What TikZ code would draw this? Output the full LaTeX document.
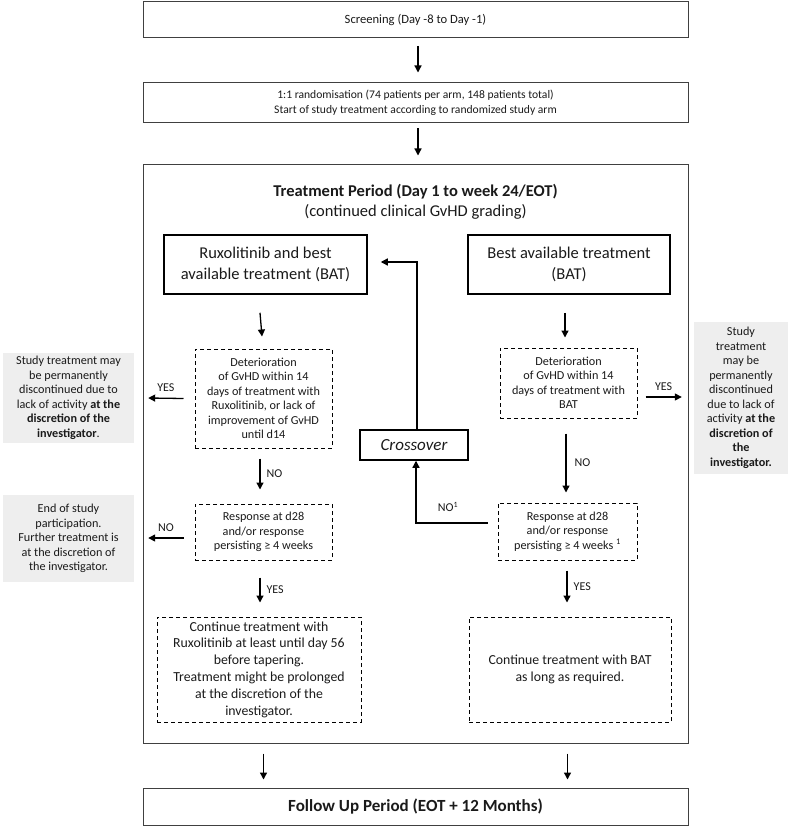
\documentclass[tikz,border=0pt]{standalone}
\usepackage{fontspec}
\setmainfont{Carlito}
\usetikzlibrary{arrows.meta}
\definecolor{edge}{HTML}{404040}
\definecolor{grayfill}{HTML}{EEEEEE}
\definecolor{ink}{HTML}{1A1A1A}
\tikzset{
  every node/.style={text=ink, inner sep=0pt, font=\fontsize{12.2}{14.5}\selectfont},
  mainbox/.style={draw=edge, line width=1pt, align=center},
  armbox/.style={draw=black, line width=1.5pt, align=center, font=\fontsize{16.5}{20.5}\selectfont},
  dashbox/.style={draw=black, line width=1pt, dash pattern=on 4pt off 3pt, align=center},
  contbox/.style={dashbox, font=\fontsize{13.8}{16.8}\selectfont},
  graybox/.style={fill=grayfill, align=center},
  arr/.style={draw=black, line width=1.3pt, -{Triangle[length=7pt,width=7pt]}},
  lbl/.style={font=\fontsize{12}{14}\selectfont}
}
\begin{document}
\begin{tikzpicture}[x=1pt,y=-1pt]
\useasboundingbox (0,0) rectangle (788,826);
% main boxes
\node[mainbox, minimum width=545, minimum height=36, font=\fontsize{12.6}{15}\selectfont] (scr) at (415.5,19.5) {Screening (Day -8 to Day -1)};
\node[mainbox, minimum width=545, minimum height=40, font=\fontsize{11.6}{14.5}\selectfont] (rand) at (415.5,103) {1:1 randomisation (74 patients per arm, 148 patients total)\\Start of study treatment according to randomized study arm};
\node[draw=edge, line width=1pt, minimum width=545, minimum height=578] (trt) at (415.5,454) {};
\node[align=center, font=\fontsize{16.5}{20.5}\selectfont] (title) at (415.5,202) {\textbf{Treatment Period (Day 1 to week 24/EOT)}\\(continued clinical GvHD grading)};
\node[mainbox, minimum width=545, minimum height=37, font=\fontsize{17}{20}\selectfont\bfseries] (fu) at (415.5,806.5) {Follow Up Period (EOT + 12 Months)};
% arm boxes
\node[armbox, minimum width=203, minimum height=59] (rux) at (265.5,264.5) {Ruxolitinib and best\\available treatment (BAT)};
\node[armbox, minimum width=202, minimum height=59] (bat) at (569,264.5) {Best available treatment\\(BAT)};
\node[armbox, minimum width=108, minimum height=30, font=\fontsize{17}{20}\selectfont\itshape] (cross) at (414,445) {Crossover};
% dashed boxes
\node[dashbox, minimum width=137, minimum height=99] (ldet) at (263.5,398.5) {Deterioration\\of GvHD within 14\\days of treatment with\\Ruxolitinib, or lack of\\improvement of GvHD\\until d14};
\node[dashbox, minimum width=137, minimum height=70] (rdet) at (568.5,383) {Deterioration\\of GvHD within 14\\days of treatment with\\BAT};
\node[dashbox, minimum width=137, minimum height=56] (lresp) at (263.5,532) {Response at d28\\and/or response\\persisting ≥ 4 weeks};
\node[dashbox, minimum width=139, minimum height=57] (rresp) at (567.5,531.5) {Response at d28\\and/or response\\persisting ≥ 4 weeks \textsuperscript{1}};
\node[contbox, minimum width=204, minimum height=105] (lcont) at (259,669.5) {Continue treatment with\\Ruxolitinib at least until day 56\\before tapering.\\Treatment might be prolonged\\at the discretion of the\\investigator.};
\node[contbox, minimum width=202, minimum height=105] (rcont) at (570,669.5) {Continue treatment with BAT\\as long as required.};
% gray side boxes
\node[graybox, minimum width=131, minimum height=90] (lg1) at (68.5,398) {Study treatment may\\be permanently\\discontinued due to\\lack of activity \textbf{at the}\\\textbf{discretion of the}\\\textbf{investigator}.};
\node[graybox, minimum width=131, minimum height=87] (lg2) at (68.5,538.5) {End of study\\participation.\\Further treatment is\\at the discretion of\\the investigator.};
\node[graybox, minimum width=94, minimum height=152] (rg) at (741,398) {Study\\treatment\\may be\\permanently\\discontinued\\due to lack of\\activity \textbf{at the}\\\textbf{discretion of}\\\textbf{the}\\\textbf{investigator.}};
% arrows between main boxes
\draw[arr] ([xshift=2.5pt,yshift=-8pt]scr.south) -- ([xshift=2.5pt,yshift=10pt]rand.north);
\draw[arr] ([xshift=2.5pt,yshift=-5pt]rand.south) -- ([xshift=2.5pt,yshift=9pt]trt.north);
% left arm
\draw[arr] ([xshift=-5.5pt,yshift=-18pt]rux.south) -- ([xshift=-3.5pt,yshift=12pt]ldet.north -| rux.south);
\draw[arr] ([xshift=-3.5pt,yshift=-10pt]ldet.south) -- ([xshift=-3.5pt,yshift=14pt]lresp.north) node[lbl, midway, right=6pt] {NO};
\draw[arr] ([xshift=-3.5pt,yshift=-17pt]lresp.south) -- ([xshift=1pt,yshift=14pt]lcont.north) node[lbl, midway, right=6pt] {YES};
\draw[arr] ([xshift=-11pt]ldet.west) -- ([xshift=14pt]lg1.east) node[lbl, midway, above=6pt] {YES};
\draw[arr] ([xshift=-11pt,yshift=-6pt]lresp.west) -- ([xshift=14pt,yshift=-6pt]lresp.west -| lg2.east) node[lbl, midway, above=6pt] {NO};
% right arm
\draw[arr] ([xshift=-4pt,yshift=-18pt]bat.south) -- ([xshift=-3.5pt,yshift=10pt]rdet.north);
\draw[arr] ([xshift=-2.5pt,yshift=-15pt]rdet.south) -- ([xshift=-1.5pt,yshift=10pt]rresp.north) node[lbl, midway, right=8pt] {NO};
\draw[arr] ([xshift=-0.5pt,yshift=-10pt]rresp.south) -- ([xshift=-3pt,yshift=14pt]rcont.north) node[lbl, midway, right=6pt] {YES};
\draw[arr] ([xshift=8pt,yshift=-14pt]rdet.east) -- ([xshift=-12pt,yshift=-14pt]rdet.east -| rg.west) node[lbl, midway, above=6pt] {YES};
% crossover
\coordinate (nob) at (416,523);
\coordinate (rtop) at (417,262);
\draw[arr] ([xshift=-10pt]rresp.west |- nob) -- (nob) -- (cross.south -| nob);
\node[lbl] (nolbl) at (448,507) {NO\textsuperscript{1}};
\draw[arr] (cross.north -| rtop) -- (rtop) -- ([xshift=13pt]rtop -| rux.east);
% to follow up
\draw[arr] ([yshift=-10pt]trt.south -| lresp.south) -- ([yshift=8pt]fu.north -| lresp.south);
\draw[arr] ([yshift=-10pt]trt.south -| rresp.south) -- ([yshift=8pt]fu.north -| rresp.south);
\end{tikzpicture}
\end{document}
